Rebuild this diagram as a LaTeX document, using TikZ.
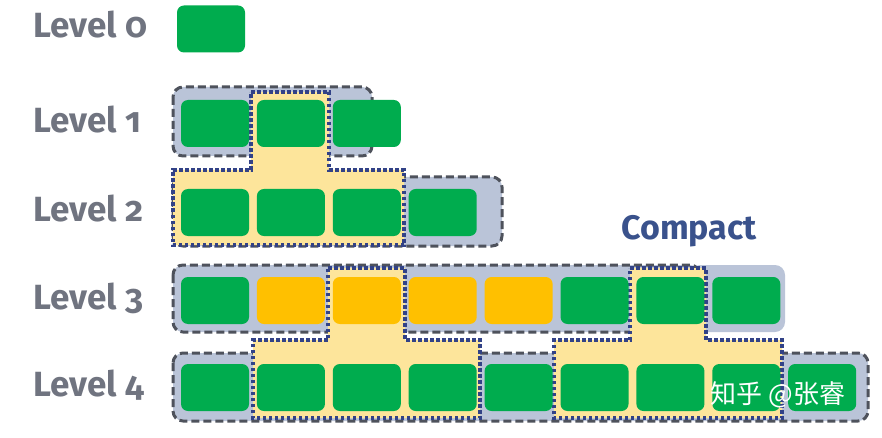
\documentclass[tikz,border=0pt]{standalone}
\usepackage{fontspec}
\setmainfont{Fira Sans}[Numbers=OldStyle]
\newfontfamily\cjkfont{Noto Sans CJK SC}
\usetikzlibrary{positioning}
\definecolor{blockgreen}{RGB}{0,172,78}
\definecolor{blockorange}{RGB}{255,192,0}
\definecolor{runfill}{RGB}{186,196,216}
\definecolor{runline}{RGB}{78,82,92}
\definecolor{mergefill}{RGB}{253,229,155}
\definecolor{mergeline}{RGB}{50,66,135}
\definecolor{labelgrey}{RGB}{112,116,128}
\definecolor{compactblue}{RGB}{58,82,140}

\begin{document}
\begin{tikzpicture}[x=1pt,y=-1pt,
  block/.style={fill=blockgreen,rounded corners=7pt,minimum width=68pt,minimum height=47pt,inner sep=0pt},
  hot/.style={block,fill=blockorange},
  level/.style={anchor=base west,inner sep=0pt,text=labelgrey,font=\fontsize{35}{35}\selectfont\bfseries},
  run/.style={fill=runfill,draw=runline,line width=3pt,dash pattern=on 8pt off 4pt,rounded corners=10pt},
  runext/.style={fill=runfill,rounded corners=10pt},
  merge/.style={fill=mergefill,draw=mergeline,line width=3.5pt,dash pattern=on 3.5pt off 2.5pt}]
\fill[white] (0,0) rectangle (882,438);
\useasboundingbox (0,0) rectangle (882,438);
% runs
\draw[run] (173,87) rectangle (372,156);
\draw[run] (173,177) rectangle (502,246);
\fill[runext] (690,265) rectangle (785,332);
\draw[run] (173,265) rectangle (700,332);
\draw[run] (173,353) rectangle (868,421);
% merged parts
\draw[merge] (251,92) -- (329,92) -- (329,170) -- (404,170) -- (404,245) -- (173,245) -- (173,170) -- (251,170) -- cycle;
\draw[merge] (328,268) -- (405,268) -- (405,340) -- (480,340) -- (480,418) -- (253,418) -- (253,340) -- (328,340) -- cycle;
\draw[merge] (630,268) -- (706,268) -- (706,340) -- (782,340) -- (782,418) -- (554,418) -- (554,340) -- (630,340) -- cycle;
% labels
\node[level] (t0) at (33,38) {Level 0};
\node[level] (t1) at (33,132.5) {Level 1};
\node[level] (t2) at (33,221.5) {Level 2};
\node[level] (t3) at (33,309.5) {Level 3};
\node[level] (t4) at (33,396.5) {Level 4};
% level 0
\node[block] (l0) at (211,29) {};
% level 1
\node[block] (l1a) at (215,123.5) {};
\node[block] (l1b) [right=7.5pt of l1a] {};
\node[block] (l1c) [right=7.5pt of l1b] {};
% level 2
\node[block] (l2a) at (215,212.5) {};
\node[block] (l2b) [right=7.5pt of l2a] {};
\node[block] (l2c) [right=7.5pt of l2b] {};
\node[block] (l2d) [right=7.5pt of l2c] {};
% level 3
\node[block] (l3a) at (215,300.5) {};
\node[hot] (l3b) [right=7.5pt of l3a] {};
\node[hot] (l3c) [right=7.5pt of l3b] {};
\node[hot] (l3d) [right=7.5pt of l3c] {};
\node[hot] (l3e) [right=7.5pt of l3d] {};
\node[block] (l3f) [right=7.5pt of l3e] {};
\node[block] (l3g) [right=7.5pt of l3f] {};
\node[block] (l3h) [right=7.5pt of l3g] {};
% level 4
\node[block] (l4a) at (215,387.5) {};
\node[block] (l4b) [right=7.5pt of l4a] {};
\node[block] (l4c) [right=7.5pt of l4b] {};
\node[block] (l4d) [right=7.5pt of l4c] {};
\node[block] (l4e) [right=7.5pt of l4d] {};
\node[block] (l4f) [right=7.5pt of l4e] {};
\node[block] (l4g) [right=7.5pt of l4f] {};
\node[block] (l4h) [right=7.5pt of l4g] {};
\node[block] (l4i) [right=7.5pt of l4h] {};
\node[anchor=base,inner sep=0pt,text=compactblue,font=\fontsize{34}{34}\selectfont\bfseries] (compact) at (689,240) {Compact};
\node[inner sep=0pt,text=white,font=\cjkfont\fontsize{26}{26}\selectfont] (mark) at (778,395) {知乎 @张睿};
\end{tikzpicture}
\end{document}
